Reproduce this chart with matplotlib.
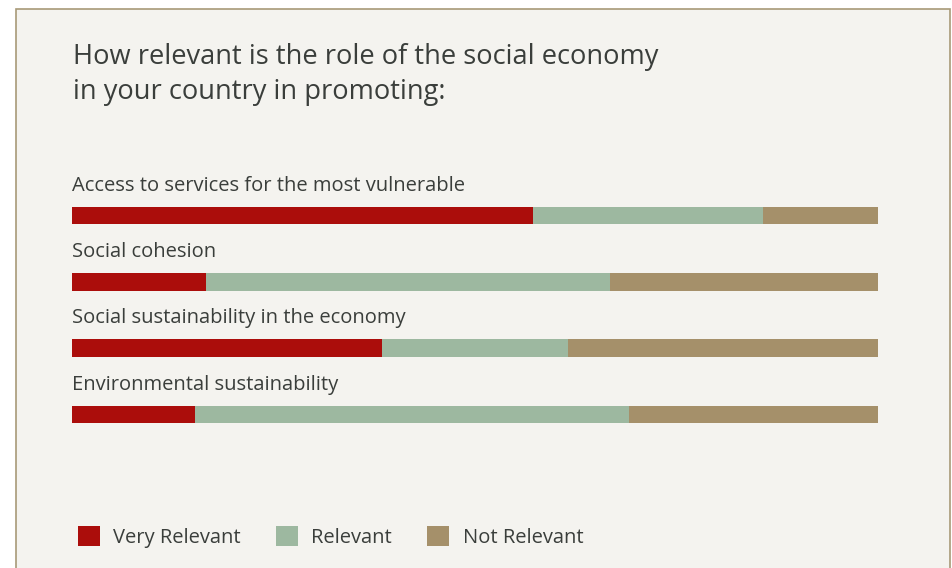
import matplotlib.pyplot as plt
from matplotlib.patches import Patch, Rectangle
import numpy as np

# survey shares (percent of respondents)
categories = [
    'Access to services for the most vulnerable',
    'Social cohesion',
    'Social sustainability in the economy',
    'Environmental sustainability',
]
very_relevant = [57.2, 16.6, 38.5, 15.3]
relevant = [28.5, 50.1, 23.1, 53.8]
not_relevant = [14.3, 33.3, 38.4, 30.9]
series_names = ['Very Relevant', 'Relevant', 'Not Relevant']

colors = ['#ab0d0b', '#9db8a0', '#a5906a']
bg = '#f4f3ef'
txt = '#3a3e3b'
font = 'Open Sans'

W, H = 952, 568
fig = plt.figure(figsize=(W / 100, H / 100), dpi=100)
fig.patch.set_facecolor('white')

# card background with a thin brown frame (top, left, right)
fig.patches.append(Rectangle((16 / W, -0.1), (950 - 16) / W, 1.1 - 9 / H,
                             transform=fig.transFigure, facecolor=bg,
                             edgecolor='#a89a78', linewidth=1.2, zorder=-5))

fig.text(73 / W, 1 - 57 / H, 'How relevant is the role of the social economy',
         fontsize=19.6, color=txt, family=font, va='center', ha='left')
fig.text(73 / W, 1 - 92 / H, 'in your country in promoting:',
         fontsize=19.6, color=txt, family=font, va='center', ha='left')

# bar axes: one unit per category, 66.3 px apart
step = 66.3
top_px = 215.5 - step
ax = fig.add_axes([72 / W, 1 - (top_px + 5 * step) / H, (878 - 72) / W, 5 * step / H])
ax.set_facecolor('none')
ax.set_xlim(0, 100)
ax.set_ylim(4, -1)
ax.axis('off')

y = np.arange(len(categories))
left = np.zeros(len(categories))
for vals, c in zip([very_relevant, relevant, not_relevant], colors):
    ax.barh(y, vals, left=left, height=0.265, color=c, linewidth=0)
    left += np.array(vals)

for i, name in enumerate(categories):
    ax.text(0, i - 0.45, name, fontsize=14.5, color=txt, family=font,
            va='center', ha='left')

handles = [Patch(facecolor=c, edgecolor='none') for c in colors]
leg = fig.legend(handles, series_names, loc='center left',
                 bbox_to_anchor=(78 / W, 1 - 537 / H), ncol=3, frameon=False,
                 handlelength=1.1, handleheight=1.1, handletextpad=0.65,
                 columnspacing=1.75, borderaxespad=0, borderpad=0,
                 prop={'family': font, 'size': 14.5})
for t in leg.get_texts():
    t.set_color(txt)

fig.savefig('out.png', dpi=100, facecolor=fig.get_facecolor())
